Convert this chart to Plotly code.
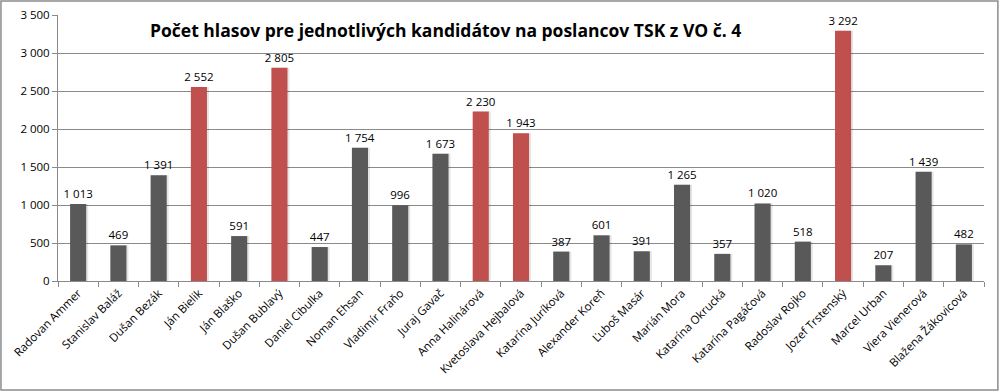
import plotly.graph_objects as go

candidates = ["Radovan Ammer", "Stanislav Baláž", "Dušan Bezák", "Ján Bielik", "Ján Blaško",
              "Dušan Bublavý", "Daniel Cibulka", "Noman Ehsan", "Vladimír Fraňo", "Juraj Gavač",
              "Anna Halinárová", "Kvetoslava Hejbalová", "Katarína Juríková", "Alexander Koreň",
              "Ľuboš Masár", "Marián Mora", "Katarína Okrucká", "Katarína Pagáčová", "Radoslav Rojko",
              "Jozef Trstenský", "Marcel Urban", "Viera Vienerová", "Blažena Žákovicová"]
votes = [1013, 469, 1391, 2552, 591, 2805, 447, 1754, 996, 1673, 2230, 1943, 387, 601, 391,
         1265, 357, 1020, 518, 3292, 207, 1439, 482]
elected = [False, False, False, True, False, True, False, False, False, False, True, True,
           False, False, False, False, False, False, False, True, False, False, False]
y_ticks = [0, 500, 1000, 1500, 2000, 2500, 3000, 3500]
title_text = "Počet hlasov pre jednotlivých kandidátov na poslancov TSK z VO č. 4"

GRAY = "#595959"
RED = "#c0504d"
colors = [RED if e else GRAY for e in elected]

fig = go.Figure()
# soft shadow
fig.add_trace(go.Bar(x=candidates, y=votes, width=0.42, offset=-0.17,
                     marker=dict(color="rgba(0,0,0,0.10)", line=dict(width=0)),
                     hoverinfo="skip", showlegend=False))
fig.add_trace(go.Bar(x=candidates, y=votes, width=0.4, offset=-0.2,
                     marker=dict(color=colors, line=dict(width=0)),
                     text=votes, texttemplate="%{y:,}", textposition="outside",
                     constraintext="none",
                     textfont=dict(family="Open Sans, Liberation Sans, sans-serif", size=11.5, color="#000"),
                     cliponaxis=False, showlegend=False))

fig.update_layout(
    width=1000, height=392,
    margin=dict(l=58, r=16, t=15, b=111, autoexpand=False),
    paper_bgcolor="white", plot_bgcolor="white",
    separators=", ",
    barmode="overlay",
    bargap=0.6,
    font=dict(family="Open Sans, Liberation Sans, sans-serif", size=11, color="#000"),
    annotations=[dict(text="<b>" + title_text + "</b>", x=0.418, y=0.944,
                      xref="paper", yref="paper", xanchor="center", yanchor="middle",
                      showarrow=False,
                      font=dict(family="Open Sans, Liberation Sans, sans-serif", size=17.5, color="#000"))],
    shapes=[dict(type="rect", xref="paper", yref="paper", x0=-0.0616, x1=1.015, y0=-0.41, y1=1.0526,
                 line=dict(color="#8c8c8c", width=1.5), fillcolor="rgba(0,0,0,0)", layer="below")],
)
fig.update_yaxes(range=[0, 3500], tickvals=y_ticks, tickformat=",", showgrid=True,
                 gridcolor="#8a8a8a", gridwidth=1, showline=True, linecolor="#8a8a8a",
                 ticks="outside", ticklen=5, tickcolor="#8a8a8a", zeroline=False,
                 tickfont=dict(size=11.5), automargin=False)
fig.update_xaxes(tickangle=-45, showline=True, linecolor="#8a8a8a", ticks="outside",
                 tickson="boundaries", ticklen=5, tickcolor="#8a8a8a",
                 tickfont=dict(size=11.5), range=[-0.5, 22.5], automargin=False)

fig.write_html("out.html", config={"displayModeBar": False},
               post_script="document.body.style.margin='0';")
